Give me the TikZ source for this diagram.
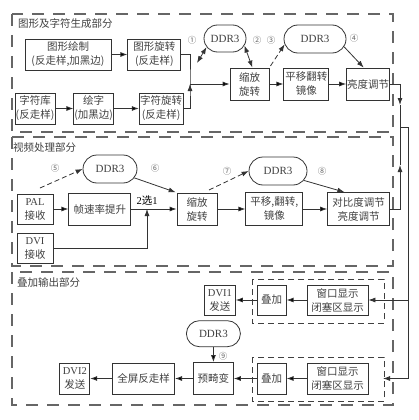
\documentclass[tikz,border=0pt]{standalone}
\usepackage{fontspec}
\setmainfont{Noto Sans CJK SC}
\newfontfamily\lat{Liberation Serif}
\usepackage{tikz}
\usetikzlibrary{shapes}
\usetikzlibrary{shapes.misc}
\usetikzlibrary{positioning}
\usetikzlibrary{arrows.meta}
\tikzstyle{blk} = [rectangle,draw=black!80,line width=0.8pt,align=center,inner sep=0.5pt,text=black!75,minimum height=31pt]
\tikzstyle{ddr} = [rounded rectangle,draw=black!80,line width=0.8pt,inner sep=1pt,font=\lat\fontsize{11}{13}\selectfont,text=black!75,minimum height=27pt]
\tikzstyle{part} = [draw=black!60,line width=1.3pt,dash pattern=on 12pt off 9pt]
\tikzstyle{win} = [draw=black!75,line width=0.8pt,dash pattern=on 6pt off 4pt]
\tikzstyle{num} = [font=\fontsize{8.5}{10}\selectfont,text=black!60,inner sep=0pt]
\tikzstyle{title} = [anchor=west,inner sep=0pt,text=black!75]
\newcommand{\MemName}{DDR3}

\begin{document}
\begin{tikzpicture}
	[x=1pt,y=-1pt,font=\fontsize{10.5}{14}\selectfont]
	\tikzstyle{arrow}=[-{Latex[length=7pt,width=5pt]},line width=0.8pt,draw=black!80];
	\tikzstyle{twoway}=[{Latex[length=7pt,width=5pt]}-{Latex[length=7pt,width=5pt]},line width=0.8pt,draw=black!80];
	\tikzstyle{dasharrow}=[arrow,dash pattern=on 5pt off 3pt];
	\useasboundingbox (0,0) rectangle (418,420);

	% the three parts
	\draw[part] (12,14) rectangle (393,132);
	\draw[part] (12,137) rectangle (393,266);
	\draw[part] (12,272) rectangle (393,405);
	\draw[win] (252,279) rectangle (384,323);
	\draw[win] (252,357) rectangle (384,401);
	\node (t1) [title] at (18,24) {图形及字符生成部分};
	\node (t2) [title] at (13,148) {视频处理部分};
	\node (t3) [title] at (17,283) {叠加输出部分};

	% graphics and characters
	\node (g1) [blk,minimum width=86pt] at (68,54.5) {图形绘制\\(反走样,加黑边)};
	\node (g2) [blk,minimum width=53pt,right=16pt of g1] {图形旋转\\(反走样)};
	\node (c1) [blk,minimum width=40pt] at (35,108.5) {字符库\\(反走样)};
	\node (c2) [blk,minimum width=38pt,right=18pt of c1] {绘字\\(加黑边)};
	\node (c3) [blk,minimum width=44pt,right=25pt of c2] {字符旋转\\(反走样)};
	\node (s1) [blk,minimum width=39pt,minimum height=32pt] at (249.5,84) {缩放\\旋转};
	\node (p1) [blk,minimum width=45pt,minimum height=32pt,right=14pt of s1] {平移翻转\\镜像};
	\node (b1) [blk,minimum width=43pt,minimum height=32pt,right=17pt of p1] {亮度调节};
	\node (d1) [ddr,minimum width=44pt] at (225,38.5) {\MemName};
	\node (d2) [ddr,minimum width=64pt,minimum height=28pt] at (315,39) {\MemName};

	% video
	\node (pal) [blk,minimum width=36pt,minimum height=30pt] at (35,209) {{\lat PAL}\\接收};
	\node (fr) [blk,minimum width=62pt,minimum height=32pt,right=15pt of pal] {帧速率提升};
	\node (dvi) [blk,minimum width=36pt,minimum height=30pt,below=9pt of pal] {{\lat DVI}\\接收};
	\node (s2) [blk,minimum width=40pt,minimum height=32pt] at (197,209) {缩放\\旋转};
	\node (p2) [blk,minimum width=57pt,minimum height=33pt,right=28pt of s2] {平移,翻转,\\镜像};
	\node (c4) [blk,minimum width=62pt,minimum height=33pt,right=24pt of p2] {对比度调节\\亮度调节};
	\node (d3) [ddr,minimum width=56pt,minimum height=28pt] at (110,169) {\MemName};
	\node (d4) [ddr,minimum width=60pt,minimum height=28pt] at (278,171) {\MemName};
	\node (sel) [inner sep=0pt] at (147,201) {{\lat 2}选{\lat 1}};

	% output
	\node (w1) [blk,minimum width=61pt,minimum height=30pt] at (337.5,300) {窗口显示\\闭塞区显示};
	\node (o1) [blk,minimum width=29pt,minimum height=30pt,left=20pt of w1] {叠加};
	\node (dv1) [blk,minimum width=31pt,minimum height=30pt,left=21pt of o1] {{\lat DVI1}\\发送};
	\node (w2) [blk,minimum width=61pt] at (337.5,378.5) {窗口显示\\闭塞区显示};
	\node (o2) [blk,minimum width=29pt,left=20pt of w2] {叠加};
	\node (pd) [blk,minimum width=40pt,minimum height=32pt,left=23pt of o2] {预畸变};
	\node (fs) [blk,minimum width=62pt,left=18pt of pd] {全屏反走样};
	\node (dv2) [blk,minimum width=30pt,left=22pt of fs] {{\lat DVI2}\\发送};
	\node (d5) [ddr,minimum width=56pt,minimum height=26pt,above=15pt of pd] {\MemName};

	% numbers
	\node (n1) [num] at (192,40) {①};
	\node (n2) [num] at (257,40) {②};
	\node (n3) [num] at (271,40) {③};
	\node (n4) [num] at (354,38) {④};
	\node (n5) [num] at (55,168) {⑤};
	\node (n6) [num] at (155,168) {⑥};
	\node (n7) [num] at (227,171) {⑦};
	\node (n8) [num] at (322,171) {⑧};
	\node (n9) [num] at (223,356) {⑨};

	\coordinate (j1) at (190,84);
	\coordinate (m1) at (197,63);
	\coordinate (e5) at (40,188);
	\coordinate (e7) at (209,190);
	\coordinate (m2) at (147,209);
	\coordinate (r1) at (400,105);
	\coordinate (j2) at (400,127);
	\coordinate (r2) at (400,165);
	\coordinate (j3) at (408,127);
	\coordinate (r3) at (408,378.5);
	\coordinate (m3) at (383,378.5);

	\path[arrow]
		(g1) edge (g2)
		(c1) edge (c2)
		(c2) edge (c3)
		(j1) edge (s1)
		(s1) edge (p1)
		(p1) edge (b1)
		(pal) edge (fr)
		(fr) edge (s2)
		(s2) edge (p2)
		(p2) edge (c4)
		(w1) edge (o1)
		(o1) edge (dv1)
		(w2) edge (o2)
		(o2) edge (pd)
		(pd) edge (fs)
		(fs) edge (dv2)
		(d5) edge (pd);
	\draw[line width=0.8pt,draw=black!80] (g2.east) -| (j1) |- (c3.east);
	\draw[twoway] (m1) -- (d1.205);
	\draw[twoway] (d1.-20) -- (s1.80);
	\draw[dasharrow,shorten <=2pt] (s1.north east) -- (d2.190);
	\draw[arrow] (d2.-15) -- (b1.105);
	\draw[dasharrow] (e5) -- (d3.west);
	\draw[arrow,shorten >=1pt] (d3.-20) -- (s2.north west);
	\draw[dasharrow] (e7) -- (d4.west);
	\draw[arrow] (d4.-20) -- (c4.130);
	\draw[arrow] (dvi.east) -| (m2);
	\draw[arrow] (b1.east) -| (r1);
	\draw[line width=0.8pt,draw=black!80] (r1) -- (j2);
	\draw[arrow] (c4.east) -| (r2);
	\draw[line width=0.8pt,draw=black!80] (r2) -- (j2) -- (j3) -- (r3);
	\draw[arrow] (j3 |- w1.east) -- (w1.east);
	\draw[arrow] (r3) -- (m3);
\end{tikzpicture}
\end{document}
